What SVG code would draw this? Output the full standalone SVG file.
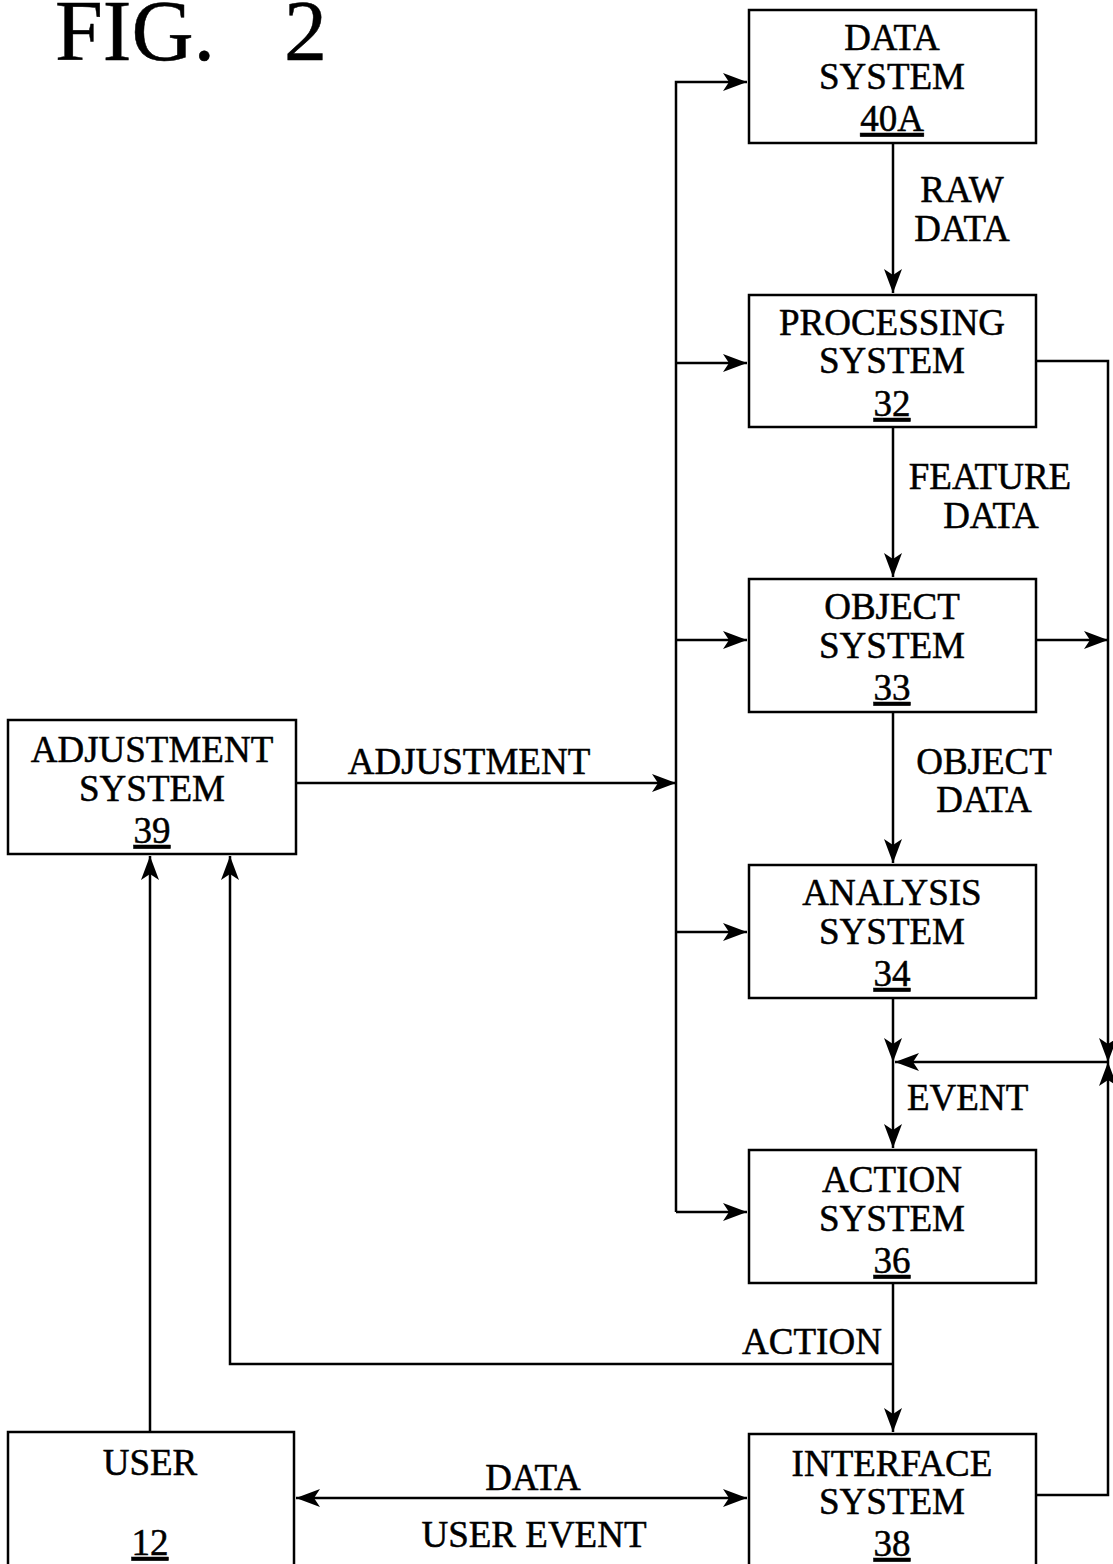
<svg xmlns="http://www.w3.org/2000/svg" width="1113" height="1564" viewBox="0 0 1113 1564">
<style>
.box{fill:#fff;stroke:#000;stroke-width:2.5}
.ln{fill:none;stroke:#000;stroke-width:2.5}
text{font-family:"Liberation Serif","Times New Roman",serif;font-size:37px;fill:#000;stroke:#000;stroke-width:0.5}
.c{text-anchor:middle}
.u{text-decoration:underline}
</style>
<defs>
<marker id="ah" markerUnits="userSpaceOnUse" markerWidth="26" markerHeight="20" refX="24" refY="9" orient="auto-start-reverse">
<path d="M0,0 L24,9 L0,18 L6,9 Z" fill="#000"/>
</marker>
</defs>
<rect width="1113" height="1564" fill="#fff"/>
<text x="55" y="60" style="font-size:86px">FIG.</text>
<text x="284" y="60" style="font-size:86px">2</text>
<g id="connectors">
<path class="ln" d="M676,1212 V82 H747" marker-end="url(#ah)"/>
<path class="ln" d="M676,363 H747" marker-end="url(#ah)"/>
<path class="ln" d="M676,640 H747" marker-end="url(#ah)"/>
<path class="ln" d="M676,932 H747" marker-end="url(#ah)"/>
<path class="ln" d="M676,1212 H747" marker-end="url(#ah)"/>
<path class="ln" d="M296,783 H676" marker-end="url(#ah)"/>
<path class="ln" d="M893,143 V293" marker-end="url(#ah)"/>
<path class="ln" d="M893,427 V577" marker-end="url(#ah)"/>
<path class="ln" d="M893,712 V863" marker-end="url(#ah)"/>
<path class="ln" d="M893,998 V1062" marker-end="url(#ah)"/>
<path class="ln" d="M893,1062 V1148" marker-end="url(#ah)"/>
<path class="ln" d="M893,1283 V1432" marker-end="url(#ah)"/>
<path class="ln" d="M893,1364 H230 V856" marker-end="url(#ah)"/>
<path class="ln" d="M150,1432 V856" marker-end="url(#ah)"/>
<path class="ln" d="M296,1498 H747" marker-start="url(#ah)" marker-end="url(#ah)"/>
<path class="ln" d="M1036,361 H1108 V1062" marker-end="url(#ah)"/>
<path class="ln" d="M1036,640 H1108" marker-end="url(#ah)"/>
<path class="ln" d="M1036,1495 H1108 V1062" marker-end="url(#ah)"/>
<path class="ln" d="M1108,1062 H895" marker-end="url(#ah)"/>
</g>
<g id="labels">
<text class="c" x="962" y="202">RAW</text>
<text class="c" x="962" y="241">DATA</text>
<text class="c" x="990" y="489">FEATURE</text>
<text class="c" x="991" y="528">DATA</text>
<text class="c" x="984" y="774">OBJECT</text>
<text class="c" x="984" y="812">DATA</text>
<text x="907" y="1110">EVENT</text>
<text class="c" x="812" y="1354">ACTION</text>
<text class="c" x="469" y="774">ADJUSTMENT</text>
<text class="c" x="533" y="1490">DATA</text>
<text class="c" x="534" y="1547">USER EVENT</text>
</g>
<g id="data-system">
<rect class="box" x="749" y="10" width="287" height="133"/>
<text class="c" x="892" y="50">DATA</text>
<text class="c" x="892" y="89">SYSTEM</text>
<text class="c u" x="892" y="131">40A</text>
</g>
<g id="processing-system">
<rect class="box" x="749" y="295" width="287" height="132"/>
<text class="c" x="892" y="335">PROCESSING</text>
<text class="c" x="892" y="373">SYSTEM</text>
<text class="c u" x="892" y="416">32</text>
</g>
<g id="object-system">
<rect class="box" x="749" y="579" width="287" height="133"/>
<text class="c" x="892" y="619">OBJECT</text>
<text class="c" x="892" y="658">SYSTEM</text>
<text class="c u" x="892" y="700">33</text>
</g>
<g id="analysis-system">
<rect class="box" x="749" y="865" width="287" height="133"/>
<text class="c" x="892" y="905">ANALYSIS</text>
<text class="c" x="892" y="944">SYSTEM</text>
<text class="c u" x="892" y="986">34</text>
</g>
<g id="action-system">
<rect class="box" x="749" y="1150" width="287" height="133"/>
<text class="c" x="892" y="1192">ACTION</text>
<text class="c" x="892" y="1231">SYSTEM</text>
<text class="c u" x="892" y="1273">36</text>
</g>
<g id="interface-system">
<rect class="box" x="749" y="1434" width="287" height="140"/>
<text class="c" x="892" y="1476">INTERFACE</text>
<text class="c" x="892" y="1514">SYSTEM</text>
<text class="c u" x="892" y="1556">38</text>
</g>
<g id="adjustment-system">
<rect class="box" x="8" y="720" width="288" height="134"/>
<text class="c" x="152" y="762">ADJUSTMENT</text>
<text class="c" x="152" y="801">SYSTEM</text>
<text class="c u" x="152" y="843">39</text>
</g>
<g id="user">
<rect class="box" x="8" y="1432" width="286" height="142"/>
<text class="c" x="150" y="1475">USER</text>
<text class="c u" x="150" y="1555">12</text>
</g>
</svg>
